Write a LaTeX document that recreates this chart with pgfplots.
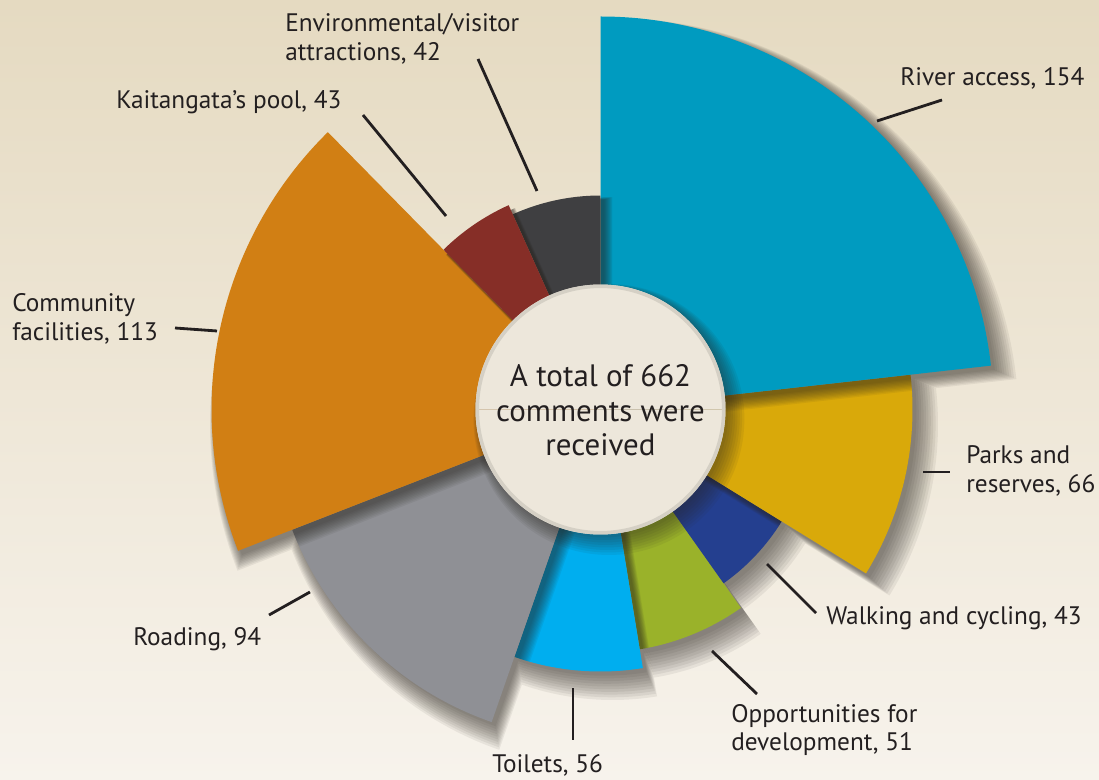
\documentclass[border=0pt]{standalone}
\usepackage{pgfplots}
\pgfplotsset{compat=1.18}
\usepackage{fontspec}
\setmainfont{PT Sans}
\definecolor{bgtop}{HTML}{E5DAC1}
\definecolor{bgbot}{HTML}{F7F3EC}
\definecolor{txt}{HTML}{231F20}
\definecolor{circ}{HTML}{EDE7DB}
\definecolor{shd}{HTML}{2A2520}
\definecolor{cRiver}{HTML}{009BC0}
\definecolor{cParks}{HTML}{D9A90A}
\definecolor{cWalk}{HTML}{243F8F}
\definecolor{cOpp}{HTML}{9AB22A}
\definecolor{cToil}{HTML}{00AEEF}
\definecolor{cRoad}{HTML}{8F9095}
\definecolor{cComm}{HTML}{D17F14}
\definecolor{cKait}{HTML}{862E27}
\definecolor{cEnv}{HTML}{3F3F41}
% centre of the rose (px, y measured upward)
\def\cx{600.5}\def\cy{369.5}
% #1 style, #2 start angle, #3 end angle, #4 radius (px), #5 dx, #6 dy
\newcommand\secfill[6]{%
 \pgfmathsetmacro\sA{#2}%
 \pgfmathsetmacro\sB{#3}%
 \pgfmathsetmacro\sR{(#4)*0.025}%
 \pgfmathsetmacro\sX{\cx+#5+(#4)*cos(\sA)}%
 \pgfmathsetmacro\sY{\cy+#6+(#4)*sin(\sA)}%
 \pgfmathsetmacro\sCx{\cx+#5}%
 \pgfmathsetmacro\sCy{\cy+#6}%
 \edef\next{\noexpand\fill[#1] (axis cs:\sCx,\sCy) -- (axis cs:\sX,\sY) arc[start angle=\sA, end angle=\sB, radius=\sR cm] -- cycle;}%
 \next}
% #1 start angle, #2 end angle, #3 outer radius, #4 colour, #5 comments (label value)
\newcommand\sector[5]{%
 \foreach \k in {10,9,...,1}{%
   \secfill{shd,opacity=0.072}{#1}{#2}{#3+(\k-1)*1.5}{3+\k*0.9}{-3-\k*1.2}}%
 \secfill{#4}{#1}{#2}{#3}{0}{0}}
\newcommand\leader[4]{\draw[line width=2pt,txt] (axis cs:#1,#2) -- (axis cs:#3,#4);}
\newcommand\lab[3]{\node[anchor=west,inner sep=0pt,align=left,text=txt,font=\fontsize{18}{20.6}\selectfont] at (axis cs:#1,#2) {#3};}
\begin{document}
\begin{tikzpicture}
\begin{axis}[width=27.475cm, height=19.475cm, scale only axis, hide axis,
  xmin=0, xmax=1099, ymin=0, ymax=779, clip=false, disabledatascaling]
\shade[top color=bgtop, bottom color=bgbot] (axis cs:0,0) rectangle (axis cs:1099,779);
% sectors: start angle, end angle, outer radius (px), colour, comments
\sector{-54.7}{-80.7}{243}{cOpp}{51}
\sector{-80.7}{-109.2}{262}{cToil}{56}
\sector{-109.2}{-158.7}{331}{cRoad}{94}
\sector{-158.7}{-225.5}{389}{cComm}{113}
\sector{-31.7}{-54.7}{213}{cWalk}{43}
\sector{6.4}{-31.7}{312}{cParks}{66}
\sector{90}{6.4}{393}{cRiver}{154}
\sector{-245.8}{-270}{214}{cEnv}{42}
\sector{-225.5}{-245.8}{224}{cKait}{43}
% centre disc
\foreach \k in {8,7,...,1}{%
  \secfill{shd,opacity=0.07}{0}{180}{125+(\k-1)*1.5}{2+\k*0.8}{-2-\k*1.0}%
  \secfill{shd,opacity=0.07}{180}{360}{125+(\k-1)*1.5}{2+\k*0.8}{-2-\k*1.0}}
\secfill{circ}{0}{180}{125}{0}{0}
\secfill{circ}{180}{360}{125}{0}{0}
\draw[line width=2.5pt,black!10!circ] (axis cs:\cx,\cy) circle[radius=3.08cm];
\node[align=center,text=txt,font=\fontsize{22}{24.5}\selectfont] at (axis cs:600.5,368.5) {A total of 662\\comments were\\received};
% leader lines
\leader{478}{720}{537}{588}
\leader{363}{664}{446}{563}
\leader{175}{451}{217}{448}
\leader{269}{164}{310}{187}
\leader{573}{91}{573}{39}
\leader{712}{128}{757}{85}
\leader{767}{215}{816}{166}
\leader{923}{307}{950}{307}
\leader{877}{658}{942}{679}
% labels
\lab{285}{740}{Environmental/visitor\\attractions, 42}
\lab{116}{677}{Kaitangata’s pool, 43}
\lab{12}{460}{Community\\facilities, 113}
\lab{133}{140}{Roading, 94}
\lab{492}{14}{Toilets, 56}
\lab{731}{49}{Opportunities for\\development, 51}
\lab{826}{161}{Walking and cycling, 43}
\lab{966}{308}{Parks and\\reserves, 66}
\lab{900}{701}{River access, 154}
\end{axis}
\pgfresetboundingbox
\path (current axis.south west) rectangle (current axis.north east);
\end{tikzpicture}
\end{document}
